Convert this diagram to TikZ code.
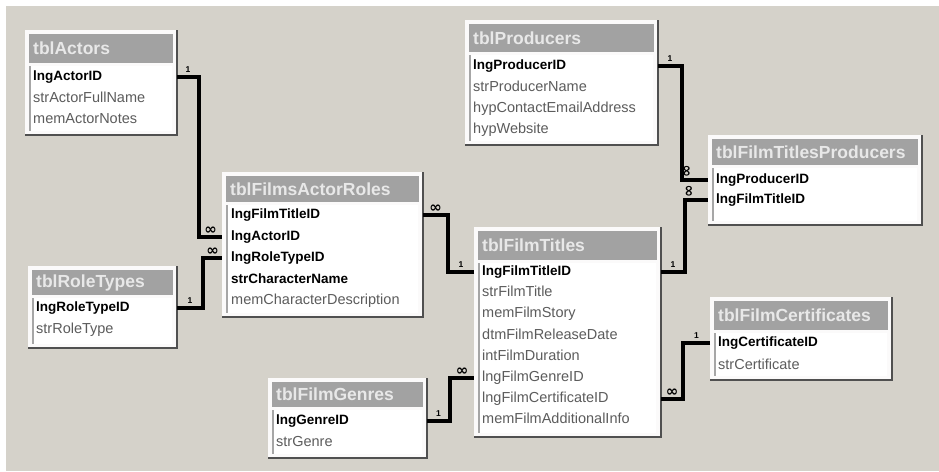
\documentclass[tikz,border=0pt]{standalone}
\usepackage{fontspec}
\setmainfont{Liberation Sans}
\newfontfamily\symfont{DejaVu Sans}
\usetikzlibrary{fit}

\definecolor{winface}{HTML}{D5D2CA}
\definecolor{tblhead}{HTML}{A2A2A2}
\definecolor{tbltext}{HTML}{5C5C5C}
\definecolor{tblshade}{HTML}{505050}

% table window: name, left, top, right, bottom, header bottom, title
\newcommand{\dbtable}[7]{%
  \fill[white!90!winface] (#2,#3) rectangle (#4,#5);
  \fill[tblhead] (#2+4,#3+4) rectangle (#4-4,#6);
  \fill[white] (#2+5,#6+3) rectangle (#4-5,#5-4);
  \draw[gray!70, line width=1.2pt] (#2+5,#6+3) -- (#2+5,#5-4);
  \draw[tblshade, line width=2.4pt] (#2,#5) -- (#4,#5) -- (#4,#3);
  \path (#2,#3) coordinate (#1-nw) (#4,#5) coordinate (#1-se);
  \node[fit=(#1-nw)(#1-se), inner sep=0pt, outer sep=0pt] (#1) {};
  \node[tbltitle] (#1-title) at (#2+8,{(#3+#6)/2+2}) {#7};
}

\tikzset{
  field/.style={anchor=west, inner sep=0pt, text height=10pt, text depth=3pt,
    font=\fontsize{14.5}{16}\selectfont, text=tbltext},
  key/.style={field, font=\fontsize{13.5}{16}\selectfont\bfseries, text=black},
  tbltitle/.style={anchor=west, inner sep=0pt,
    font=\fontsize{17.5}{18}\selectfont\bfseries, text=white!82!gray},
  rel/.style={line width=3.2pt, black, line join=miter},
  one/.style={above, inner sep=1pt, yshift=2pt, font=\fontsize{8.5}{8}\selectfont\bfseries},
  many/.style={above, inner sep=1pt, font=\symfont\fontsize{15}{15}\selectfont\bfseries},
  manyv/.style={many, rotate=90, anchor=west}
}

\begin{document}
\begin{tikzpicture}[x=1pt, y=-1pt]
  \useasboundingbox (0,0) rectangle (939,471);
  \fill[white] (0,0) rectangle (939,471);
  \fill[winface] (6,6) rectangle (939,471);

  % tables
  \dbtable{actors}{25}{30}{177}{135}{63}{tblActors}
  \node[key]   (aActorID)  at (33,77)  {lngActorID};
  \node[field] (aFullName) at (33,99)  {strActorFullName};
  \node[field] (aNotes)    at (33,120) {memActorNotes};

  \dbtable{roles}{28}{266}{177}{348}{295}{tblRoleTypes}
  \node[key]   (tRoleTypeID) at (36,308) {lngRoleTypeID};
  \node[field] (tRoleType)   at (36,330) {strRoleType};

  \dbtable{far}{222}{172}{423}{317}{202}{tblFilmsActorRoles}
  \node[key]   (rFilmTitleID) at (231,215) {lngFilmTitleID};
  \node[key]   (rActorID)     at (231,237) {lngActorID};
  \node[key]   (rRoleTypeID)  at (231,258) {lngRoleTypeID};
  \node[key]   (rCharName)    at (231,280) {strCharacterName};
  \node[field] (rCharDesc)    at (231,301) {memCharacterDescription};

  \dbtable{producers}{465}{20}{658}{145}{52}{tblProducers}
  \node[key]   (pProducerID) at (473,66)  {lngProducerID};
  \node[field] (pName)       at (473,88)  {strProducerName};
  \node[field] (pEmail)      at (473,109) {hypContactEmailAddress};
  \node[field] (pWebsite)    at (473,130) {hypWebsite};

  \dbtable{ftp}{708}{135}{922}{225}{165}{tblFilmTitlesProducers}
  \node[key] (xProducerID)  at (716,180) {lngProducerID};
  \node[key] (xFilmTitleID) at (716,200) {lngFilmTitleID};

  \dbtable{films}{474}{227}{661}{437}{260}{tblFilmTitles}
  \node[key]   (fFilmTitleID)   at (482,272) {lngFilmTitleID};
  \node[field] (fTitle)         at (482,293) {strFilmTitle};
  \node[field] (fStory)         at (482,314) {memFilmStory};
  \node[field] (fRelease)       at (482,336) {dtmFilmReleaseDate};
  \node[field] (fDuration)      at (482,357) {intFilmDuration};
  \node[field] (fGenreID)       at (482,378) {lngFilmGenreID};
  \node[field] (fCertificateID) at (482,399) {lngFilmCertificateID};
  \node[field] (fInfo)          at (482,420) {memFilmAdditionalInfo};

  \dbtable{certs}{710}{297}{892}{380}{330}{tblFilmCertificates}
  \node[key]   (cCertificateID) at (718,343) {lngCertificateID};
  \node[field] (cCertificate)   at (718,366) {strCertificate};

  \dbtable{genres}{268}{378}{427}{458}{407}{tblFilmGenres}
  \node[key]   (gGenreID) at (276,421) {lngGenreID};
  \node[field] (gGenre)   at (276,443) {strGenre};

  % relationships, one side first
  \draw[rel] (actors.east |- aActorID) -- node[one]{1} ++(22,0)
    |- node[many, pos=0.75]{∞} (far.west |- rActorID);
  \draw[rel] (roles.east |- tRoleTypeID) -- node[one]{1} ++(26,0)
    |- node[many, pos=0.75]{∞} (far.west |- rRoleTypeID);
  \draw[rel] (films.west |- fFilmTitleID) -- node[one]{1} ++(-26,0)
    |- node[many, pos=0.75]{∞} (far.east |- rFilmTitleID);
  \draw[rel] (producers.east |- pProducerID) -- node[one]{1} ++(24,0)
    |- node[manyv, pos=0.6]{∞} (ftp.west |- xProducerID);
  \draw[rel] (films.east |- fFilmTitleID) -- node[one]{1} ++(24,0)
    |- node[manyv, pos=0.6]{∞} (ftp.west |- xFilmTitleID);
  \draw[rel] (genres.east |- gGenreID) -- node[one]{1} ++(23,0)
    |- node[many, pos=0.75]{∞} (films.west |- fGenreID);
  \draw[rel] (certs.west |- cCertificateID) -- node[one]{1} ++(-27,0)
    |- node[many, pos=0.75]{∞} (films.east |- fCertificateID);
\end{tikzpicture}
\end{document}
